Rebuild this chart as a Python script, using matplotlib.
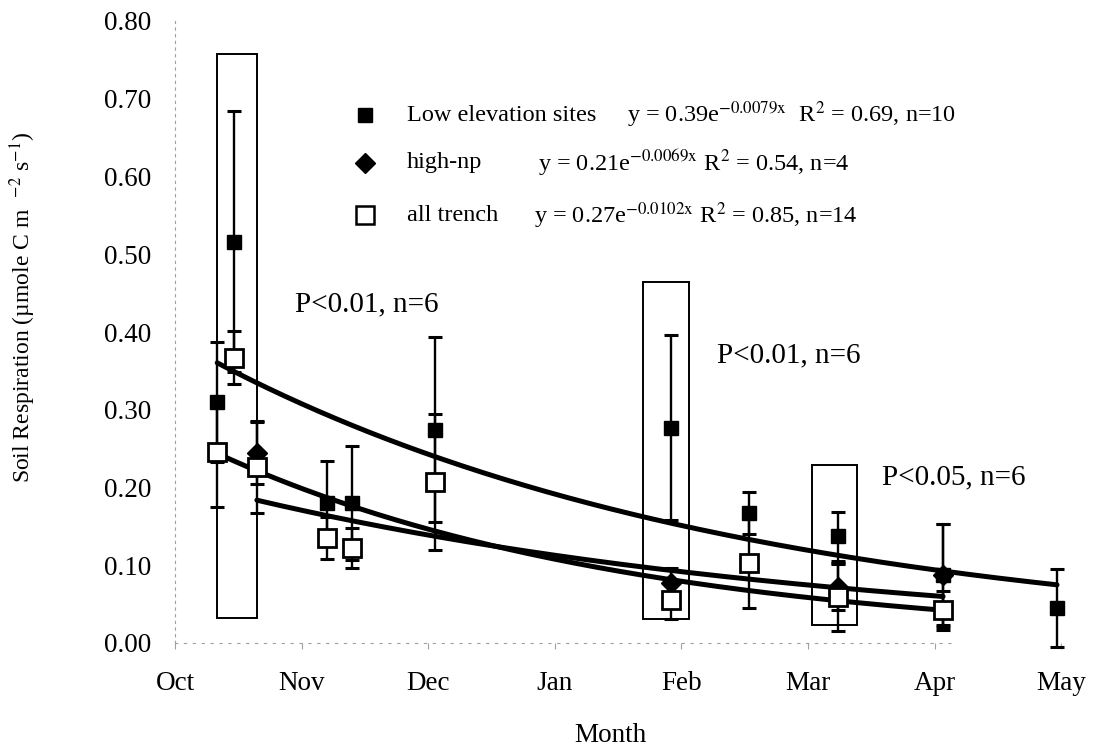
import matplotlib
matplotlib.use("Agg")
import matplotlib.pyplot as plt
import numpy as np
from matplotlib.patches import Rectangle

plt.rcParams['font.family'] = ['Liberation Serif', 'DejaVu Serif']
plt.rcParams['mathtext.fontset'] = 'stix'

# ---- data (x = days after 1 Oct) ----
months = ["Oct", "Nov", "Dec", "Jan", "Feb", "Mar", "Apr", "May"]
month_days = [0, 30, 60, 90, 120, 150, 180, 210]

low_days = [10, 14, 36, 42, 61.5, 117.5, 136, 157, 182, 209]
low_vals = [0.31, 0.516, 0.18, 0.18, 0.274, 0.277, 0.167, 0.137, 0.087, 0.045]
low_err = [0.077, 0.168, 0.054, 0.073, 0.119, 0.119, 0.027, 0.031, 0.066, 0.05]

high_days = [19.4, 117.5, 157, 182]
high_vals = [0.244, 0.077, 0.072, 0.088]
high_err = [0.04, 0.02, 0.03, 0.065]

trench_days = [10, 14, 19.4, 36, 42, 61.5, 117.5, 136, 157, 182]
trench_vals = [0.246, 0.367, 0.226, 0.135, 0.122, 0.207, 0.055, 0.103, 0.059, 0.042]
trench_err = [0.071, 0.034, 0.059, 0.027, 0.026, 0.088, 0.024, 0.058, 0.044, 0.025]

# exponential fits y = a*exp(b*x), drawn over the range of each series
fit_a = {"low": 0.39, "high": 0.21, "trench": 0.27}
fit_b = {"low": -0.0079, "high": -0.0069, "trench": -0.0102}
fit_eq = {
    "low": r"y = 0.39e$^{\mathrm{-0.0079x}}$  R$^{2}$ = 0.69, n=10",
    "high": r"y = 0.21e$^{\mathrm{-0.0069x}}$ R$^{2}$ = 0.54, n=4",
    "trench": r"y = 0.27e$^{\mathrm{-0.0102x}}$ R$^{2}$ = 0.85, n=14",
}
series_names = {"low": "Low elevation sites", "high": "high-np", "trench": "all trench"}

# significance boxes: (day_start, day_end, value_bottom, value_top)
boxes = [(10, 19.4, 0.032, 0.757), (110.9, 121.8, 0.031, 0.464), (151, 161.6, 0.023, 0.229)]
annotations = [("P<0.01, n=6", 28.5, 0.436), ("P<0.01, n=6", 128.5, 0.37), ("P<0.05, n=6", 167.5, 0.213)]

fig = plt.figure(figsize=(10.98, 7.53), dpi=100)
ax = fig.add_axes([175/1098, 110/753, (1095-175)/1098, (643-21)/753])
ax.set_xlim(0, 218)
ax.set_ylim(0, 0.8)

FS_LEG = 17.5
FS_ANN = 21
FS_TICK = 19.5

# fitted curves
for key, days in (("low", low_days), ("trench", trench_days), ("high", high_days)):
    xs = np.linspace(min(days), max(days), 200)
    ax.plot(xs, fit_a[key] * np.exp(fit_b[key] * xs), color='black', lw=3.6, zorder=3,
            solid_capstyle='round')

ekw = dict(fmt='none', ecolor='black', elinewidth=1.7, capsize=5, capthick=2.2, clip_on=False, zorder=2)
ax.errorbar(low_days, low_vals, yerr=low_err, **ekw)
ax.errorbar(high_days, high_vals, yerr=high_err, **ekw)
ax.errorbar(trench_days, trench_vals, yerr=trench_err, **ekw)

ax.plot(low_days, low_vals, 's', color='black', ms=10, zorder=4, clip_on=False)
ax.plot(high_days, high_vals, 'D', color='black', ms=10, zorder=4, clip_on=False)
ax.plot(trench_days, trench_vals, 's', mfc='white', mec='black', mew=2, ms=13.5, zorder=5, clip_on=False)

for (x0, x1, y0, y1) in boxes:
    ax.add_patch(Rectangle((x0, y0), x1 - x0, y1 - y0, fill=False, ec='black', lw=1.4, zorder=1))

for (txt, x, y) in annotations:
    ax.text(x, y, txt, fontsize=FS_ANN, ha='left', va='center')

# manual legend
leg_rows = [0.679, 0.618, 0.55]
leg_markers = {"low": dict(marker='s', color='black', ms=9.5),
               "high": dict(marker='D', color='black', ms=10.5),
               "trench": dict(marker='s', mfc='white', mec='black', mew=1.8, ms=12.5)}
eq_x = {"low": 107, "high": 86, "trench": 85}
for key, yr in zip(("low", "high", "trench"), leg_rows):
    ax.plot([45], [yr], linestyle='none', **leg_markers[key])
    ax.text(55, yr, series_names[key], fontsize=FS_LEG, va='center', ha='left')
    ax.text(eq_x[key], yr, fit_eq[key], fontsize=FS_LEG, va='center', ha='left')

# axes styling
for s in ("top", "right"):
    ax.spines[s].set_visible(False)
ax.spines['left'].set_color('#a0a0a0')
ax.spines['left'].set_linestyle((0, (2, 4)))
ax.spines['left'].set_linewidth(0.8)
ax.spines['bottom'].set_color('#a0a0a0')
ax.spines['bottom'].set_linestyle((0, (2, 6)))
ax.spines['bottom'].set_linewidth(0.8)
ax.spines['bottom'].set_bounds(0, 184)

yt = np.arange(0, 0.81, 0.1)
ax.set_yticks(yt)
ax.set_yticklabels([f"{v:.2f}" for v in yt], fontsize=FS_TICK)
ax.tick_params(axis='y', length=0, pad=17)
ax.set_xticks(month_days)
ax.set_xticklabels(months, fontsize=FS_TICK)
ax.tick_params(axis='x', length=4, color='#a0a0a0', pad=16)

ax.set_ylabel("Soil Respiration (µmole C m  $^{-2}$ s$^{-1}$)", fontsize=17)
ax.yaxis.set_label_coords((38 - 175) / 920, 0.54)
ax.set_xlabel("Month", fontsize=FS_TICK, va='center')
ax.xaxis.set_label_coords((610 - 175) / 920, -(736 - 643) / 622)

fig.savefig("out.png", dpi=100)
